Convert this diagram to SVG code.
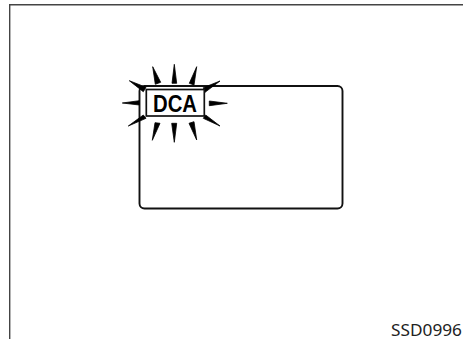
<svg xmlns="http://www.w3.org/2000/svg" width="463" height="339" viewBox="0 0 463 339">
<style>
.frame{fill:none;stroke:#444;stroke-width:1.4}
.panel{fill:#fff;stroke:#111;stroke-width:1.9}
.badge{fill:#fff;stroke:#111;stroke-width:1.7}
.ray{fill:#000;stroke:#000;stroke-width:.8;stroke-linejoin:round}
.dca{font-family:"Liberation Sans",Arial,sans-serif;font-weight:700;font-size:23px;fill:#000}
.code{font-family:"Noto Sans",sans-serif;font-size:17px;fill:#222}
</style>
<rect width="463" height="339" fill="#fff"/>
<path id="frame" class="frame" d="M9.7 339V4.7H463"/>
<g id="display"><rect class="panel" x="139.5" y="86" width="203" height="122.5" rx="5" ry="5"/></g>
<g id="rays">
<polygon class="ray" points="152.7,66.7 155.3,84.3 160.7,82.3"/>
<polygon class="ray" points="174.3,64.3 172,83.3 176.7,83.3"/>
<polygon class="ray" points="196.7,66.7 189.3,83.3 194,85"/>
<polygon class="ray" points="129.3,80.7 143.3,91.7 146,87.3"/>
<polygon class="ray" points="220,81 203.3,87.7 205,92.3"/>
<polygon class="ray" points="122.3,103 139.3,100.7 139.3,105"/>
<polygon class="ray" points="227.3,103.3 209.3,101 209.3,105.7"/>
<polygon class="ray" points="128.3,126 143.3,115 146,118.3"/>
<polygon class="ray" points="220,126 203.3,118.3 205.7,115"/>
<polygon class="ray" points="152.3,140.3 155,122.7 160,123.3"/>
<polygon class="ray" points="174.3,142.3 171.7,123.3 176.7,123.3"/>
<polygon class="ray" points="196.7,140 189,123.3 194,121.7"/>
</g>
<g id="dca-indicator">
<rect class="badge" x="146.3" y="89.5" width="58" height="26.5"/>
<text class="dca" x="153" y="111.7" textLength="44" lengthAdjust="spacingAndGlyphs">DCA</text>
</g>
<text id="code" class="code" x="391" y="335.5" textLength="71" lengthAdjust="spacingAndGlyphs">SSD0996</text>
</svg>
